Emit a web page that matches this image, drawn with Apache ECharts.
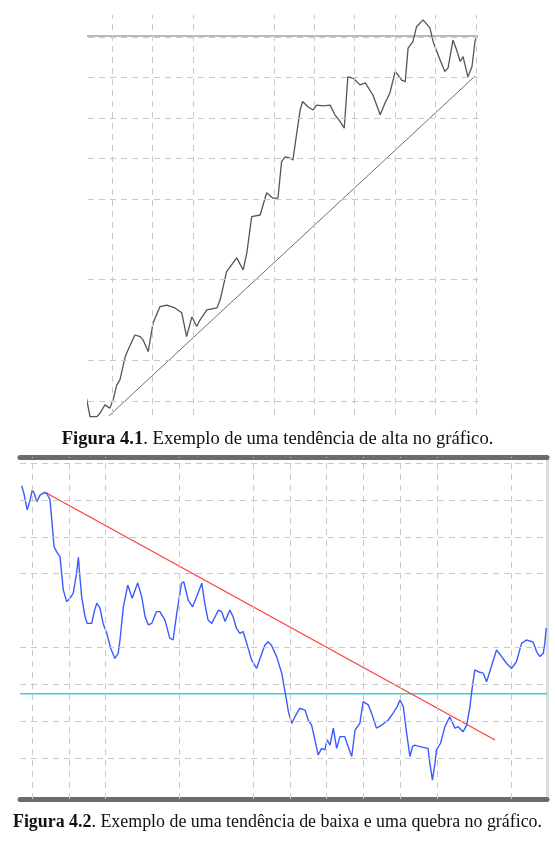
<!DOCTYPE html>
<html>
<head>
<meta charset="utf-8">
<title>Figura 4.1 e 4.2</title>
<script src="https://cdn.jsdelivr.net/npm/echarts@6/dist/echarts.min.js"></script>
<style>
    html, body { margin: 0; padding: 0; background: #fff; }
    #chart { width: 555px; height: 841px; }
</style>
</head>
<body>
<div id="chart"></div>
<script>
// Figura 4.1 - tendencia de alta (dia, preco)
const upDay = [
    3.3, 4.5, 6.2, 7.0, 8.2, 9.4, 10.2, 11.1, 11.9, 13.2,
    13.9, 15.6, 16.9, 17.6, 18.9, 20.1, 21.8, 23.5, 25.5, 27.2,
    28.4, 29.7, 30.9, 31.7, 33.4, 35.9, 36.7, 38.3, 40.8, 42.4,
    43.3, 44.5, 46.6, 48.2, 49.7, 51.0, 51.9, 52.8, 54.0, 54.7,
    55.7, 56.5, 57.1, 58.4, 59.7, 60.6, 62.2, 63.9, 65.1, 66.4,
    67.4, 68.3, 69.6, 71.3, 72.6, 74.5, 76.3, 77.5, 78.7, 80.0,
    80.7, 81.6, 82.5, 83.2, 84.4, 85.3, 86.9, 88.6, 89.4, 91.1,
    92.3, 93.1, 94.3, 95.2, 96.1, 96.8, 98.0, 99.0, 99.8, 100.3
]
const upPrice = [
    12.3, 6.1, 6.1, 7.0, 9.0, 8.2, 10.2, 13.9, 15.2, 20.9,
    22.6, 26.3, 25.9, 25.1, 22.2, 29.3, 33.3, 33.7, 33.0, 31.8,
    25.9, 30.8, 28.4, 30.0, 32.5, 33.0, 35.0, 42.0, 45.4, 42.4,
    46.6, 55.6, 56.0, 61.5, 60.2, 60.2, 69.2, 70.4, 70.1, 69.6,
    76.6, 82.0, 84.1, 82.8, 82.0, 83.2, 83.0, 83.2, 80.8, 79.1,
    77.5, 90.2, 89.9, 88.2, 88.7, 85.7, 80.8, 83.7, 86.2, 91.5,
    90.7, 89.4, 89.0, 97.3, 98.9, 102.6, 104.3, 102.3, 98.9, 94.4,
    91.5, 92.4, 99.3, 96.9, 94.0, 95.2, 90.2, 92.7, 99.3, 100.1
]
const upTrend = [[9.2, 6.3], [99.8, 90.4]]
const upResistance = [[3.3, 100.3], [100.5, 100.3]]
const upGridDays = [10, 20, 30, 50, 60, 70, 80, 90, 100]
const upGridPrices = [10, 20, 40, 60, 70, 80, 90, 100]

// Figura 4.2 - tendencia de baixa e quebra
const downDay = [
    7.2, 7.8, 8.7, 9.5, 10.1, 10.6, 11.3, 12.2, 13.1, 14.0,
    14.9, 15.3, 16.0, 16.7, 17.6, 18.5, 19.4, 20.3, 21.2, 22.1,
    22.6, 23.0, 23.5, 24.4, 25.0, 26.2, 26.9, 27.6, 28.5, 29.3,
    30.3, 31.4, 32.5, 33.4, 33.9, 34.8, 36.0, 37.2, 38.7, 39.8,
    40.7, 41.6, 42.5, 43.8, 44.7, 46.1, 47.4, 48.3, 49.3, 50.6,
    51.2, 52.4, 53.6, 54.7, 56.1, 56.9, 57.8, 58.8, 59.7, 60.6,
    61.5, 62.4, 63.7, 64.6, 65.5, 66.4, 67.3, 68.3, 69.6, 71.0,
    71.9, 73.2, 74.1, 75.0, 76.4, 77.8, 78.2, 79.1, 79.6, 80.5,
    81.4, 82.7, 84.1, 85.0, 85.9, 86.8, 87.7, 88.6, 89.5, 90.1,
    90.9, 91.8, 92.7, 93.6, 94.9, 95.8, 96.8, 97.7, 99.0, 99.9,
    101.3, 102.2, 103.5, 104.9, 106.7, 108.0, 109.1, 109.9, 110.8, 111.7,
    112.6, 113.3, 113.9, 115.3, 117.5, 118.0, 118.7, 119.4, 119.8, 120.9,
    122.1, 123.4, 124.8, 125.7, 127.0, 128.0, 128.9, 129.3, 130.2, 131.1,
    132.5, 133.4, 134.7, 136.1, 137.5, 138.8, 140.2, 141.5, 142.9, 144.2,
    146.0, 147.0, 147.9, 148.8, 149.2, 149.6
]
const downPrice = [
    93.8, 91.8, 87.3, 90.0, 92.7, 91.8, 89.5, 91.3, 91.9, 91.8,
    90.0, 85.4, 77.3, 75.9, 74.6, 65.6, 62.4, 63.3, 64.7, 70.1,
    74.4, 69.2, 63.7, 58.3, 56.5, 56.5, 59.7, 62.0, 60.6, 56.5,
    53.8, 49.7, 47.0, 48.4, 52.0, 61.0, 66.9, 63.3, 67.5, 63.7,
    58.3, 56.1, 56.5, 59.7, 59.7, 57.4, 52.5, 52.0, 59.2, 67.4,
    67.8, 62.8, 61.0, 63.7, 67.4, 62.0, 57.4, 56.5, 58.3, 60.1,
    59.7, 57.0, 60.1, 58.3, 55.2, 53.8, 54.3, 51.1, 46.6, 44.3,
    47.0, 50.6, 51.5, 50.6, 47.5, 43.0, 40.7, 35.7, 32.6, 29.4,
    31.2, 33.5, 33.0, 30.3, 28.9, 24.9, 20.8, 22.6, 22.2, 24.9,
    23.5, 28.1, 22.6, 25.8, 25.8, 23.1, 20.4, 27.6, 29.4, 35.3,
    34.4, 32.1, 28.1, 28.9, 30.3, 32.1, 33.9, 35.7, 33.9, 26.7,
    20.4, 23.1, 23.5, 23.1, 22.6, 18.6, 14.0, 18.6, 22.2, 24.0,
    28.5, 31.2, 28.1, 28.5, 27.1, 28.9, 33.9, 37.5, 43.9, 43.4,
    43.0, 40.7, 44.8, 49.3, 47.5, 45.7, 44.3, 46.1, 51.1, 52.0,
    51.5, 48.8, 47.5, 48.4, 51.1, 55.3
]
const downTrend = [[13.3, 92.2], [135.7, 24.9]]
const downSupport = [[6.75, 37.4], [149.8, 37.4]]
const downGridDays = [10, 20, 30, 50, 70, 80, 90, 100, 110, 120, 140]
const downGridPrices = [20, 30, 40, 50, 70, 80, 90, 100]

const zip = (xs, ys) => xs.map((x, i) => [x, ys[i]])

function gridLines(days, prices) {
    return {
        silent: true,
        symbol: 'none',
        label: { show: false },
        emphasis: { disabled: true },
        lineStyle: { color: '#c9c9c9', type: [6, 5], width: 1 },
        data: days.map(v => ({ xAxis: v })).concat(prices.map(v => ({ yAxis: v })))
    }
}

function plainLine(xi, data, color, width, z) {
    return {
        type: 'line',
        xAxisIndex: xi,
        yAxisIndex: xi === 0 ? 0 : 1,
        data: data,
        symbol: 'none',
        clip: false,
        z: z,
        lineStyle: { color: color, width: width },
        emphasis: { disabled: true }
    }
}

function caption(text, top, size) {
    return {
        text: text,
        left: 'center',
        top: top,
        textStyle: {
            fontFamily: serif, fontSize: size, fontWeight: 'normal', color: '#111',
            rich: { b: { fontFamily: serif, fontSize: size, fontWeight: 'bold', color: '#111' } }
        }
    }
}

const serif = 'Liberation Serif, Times New Roman, serif'
const frameAxis = {
    show: true,
    onZero: false,
    lineStyle: { color: '#6b6b6b', width: 5 }
}

const myChart = echarts.init(document.getElementById('chart'))

const option = {
    animation: false,
    backgroundColor: '#fff',
    title: [
        caption('{b|Figura 4.1}. Exemplo de uma tendência de alta no gráfico.', 425, 18.6),
        caption('{b|Figura 4.2}. Exemplo de uma tendência de baixa e uma quebra no gráfico.', 808, 17.9)
    ],
    grid: [
        { left: 88, right: 77, top: 15, height: 400 },
        { left: 20, right: 8, top: 457, height: 342 }
    ],
    xAxis: [
        { gridIndex: 0, type: 'value', min: 4, max: 100.5, show: false },
        {
            gridIndex: 1, type: 'value', min: 6.75, max: 149.8, position: 'bottom',
            axisLine: frameAxis, axisTick: { show: false }, axisLabel: { show: false }, splitLine: { show: false }
        },
        {
            gridIndex: 1, type: 'value', min: 6.75, max: 149.8, position: 'top',
            axisLine: frameAxis, axisTick: { show: false }, axisLabel: { show: false }, splitLine: { show: false }
        }
    ],
    yAxis: [
        { gridIndex: 0, type: 'value', min: 6.5, max: 105.5, show: false },
        {
            gridIndex: 1, type: 'value', min: 8.88, max: 101.63, position: 'right',
            axisLine: { show: true, lineStyle: { color: '#dddddd', width: 3 } },
            axisTick: { show: false }, axisLabel: { show: false }, splitLine: { show: false }
        }
    ],
    series: [
        {
            type: 'line', xAxisIndex: 0, yAxisIndex: 0, data: [], z: 1,
            markLine: gridLines(upGridDays, upGridPrices)
        },
        plainLine(0, upResistance, '#a2a2a2', 1.6, 2),
        plainLine(0, upTrend, '#707070', 1, 3),
        plainLine(0, zip(upDay, upPrice), '#555555', 1.3, 4),

        {
            type: 'line', xAxisIndex: 1, yAxisIndex: 1, data: [], z: 1,
            markLine: gridLines(downGridDays, downGridPrices)
        },
        plainLine(1, downSupport, '#38d2d8', 1.5, 2),
        plainLine(1, downTrend, '#ff3b3b', 1.2, 3),
        plainLine(1, zip(downDay, downPrice), '#3a5cff', 1.4, 4)
    ]
}

myChart.setOption(option)
</script>
</body>
</html>
